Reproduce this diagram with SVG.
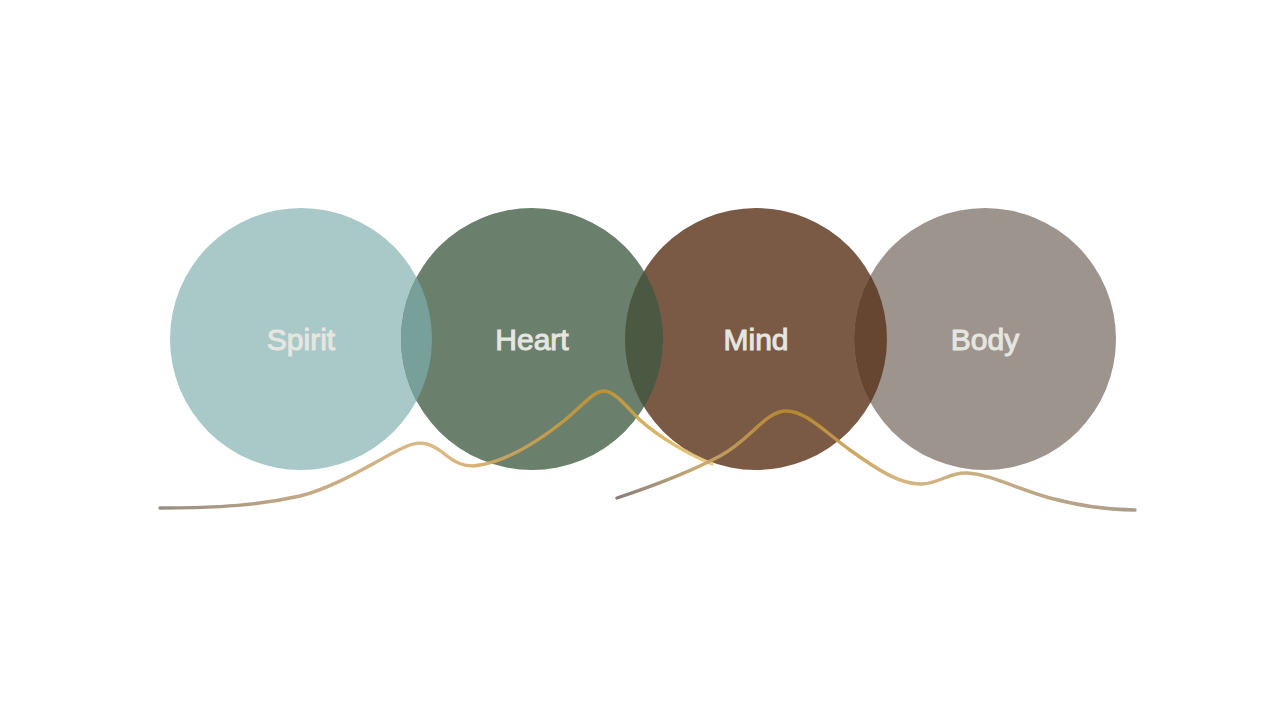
<svg xmlns="http://www.w3.org/2000/svg" width="1280" height="720" viewBox="0 0 1280 720">
<defs>
<style>
.lbl{font-family:"Liberation Sans",Arial,sans-serif;font-size:30px;fill:#e6e6e1;stroke:#e6e6e1;stroke-width:1;text-anchor:middle}
.wave{fill:none;stroke-width:3.4;stroke-linecap:round;stroke-linejoin:round;stroke-opacity:0.92}
</style>
<clipPath id="cSpirit"><circle cx="301" cy="339" r="131"/></clipPath>
<clipPath id="cHeart"><circle cx="532" cy="339" r="131"/></clipPath>
<clipPath id="cMind"><circle cx="756" cy="339" r="131"/></clipPath>
<linearGradient id="gA" gradientUnits="userSpaceOnUse" x1="160" y1="0" x2="712" y2="0">
<stop offset="0" stop-color="#8f8478"/>
<stop offset="0.3" stop-color="#c4a57c"/>
<stop offset="0.5" stop-color="#dab47a"/>
<stop offset="0.8" stop-color="#c29232"/>
<stop offset="1" stop-color="#ecc77a"/>
</linearGradient>
<linearGradient id="gB" gradientUnits="userSpaceOnUse" x1="617" y1="0" x2="1135" y2="0">
<stop offset="0" stop-color="#7d7270"/>
<stop offset="0.17" stop-color="#c9a66a"/>
<stop offset="0.33" stop-color="#b98a2c"/>
<stop offset="0.55" stop-color="#d3b074"/>
<stop offset="1" stop-color="#a39482"/>
</linearGradient>
</defs>
<rect width="1280" height="720" fill="#ffffff"/>
<g id="spirit">
<circle cx="301" cy="339" r="131" fill="#a9c8c8"/>
<text class="lbl" x="301" y="350">Spirit</text>
</g>
<g id="heart">
<circle cx="532" cy="339" r="131" fill="#6a806c"/>
<circle cx="532" cy="339" r="131" fill="#77a09a" clip-path="url(#cSpirit)"/>
<text class="lbl" x="532" y="350">Heart</text>
</g>
<g id="mind">
<circle cx="756" cy="339" r="131" fill="#7a5a45"/>
<circle cx="756" cy="339" r="131" fill="#4b5942" clip-path="url(#cHeart)"/>
<text class="lbl" x="756" y="350">Mind</text>
</g>
<g id="body">
<circle cx="985" cy="339" r="131" fill="#9c948d"/>
<circle cx="985" cy="339" r="131" fill="#664631" clip-path="url(#cMind)"/>
<text class="lbl" x="985" y="350">Body</text>
</g>
<g id="connectors">
<path class="wave" stroke="url(#gA)" d="M160,508 C220,508 260,505 300,496 C340,486 380,458 405,447 C420,440 430,443 442,452 C455,463 465,468 480,465 C510,460 540,440 565,420 C585,403 595,390 605,391 C615,392 625,405 640,420 C660,438 690,455 712,464"/>
<path class="wave" stroke="url(#gB)" d="M617,498 C650,487 690,472 720,456 C750,440 765,412 785,411 C805,410 825,432 850,450 C875,468 900,485 922,484 C940,483 950,472 967,473 C990,474 1020,490 1050,498 C1080,506 1110,510 1135,510"/>
</g>
</svg>
